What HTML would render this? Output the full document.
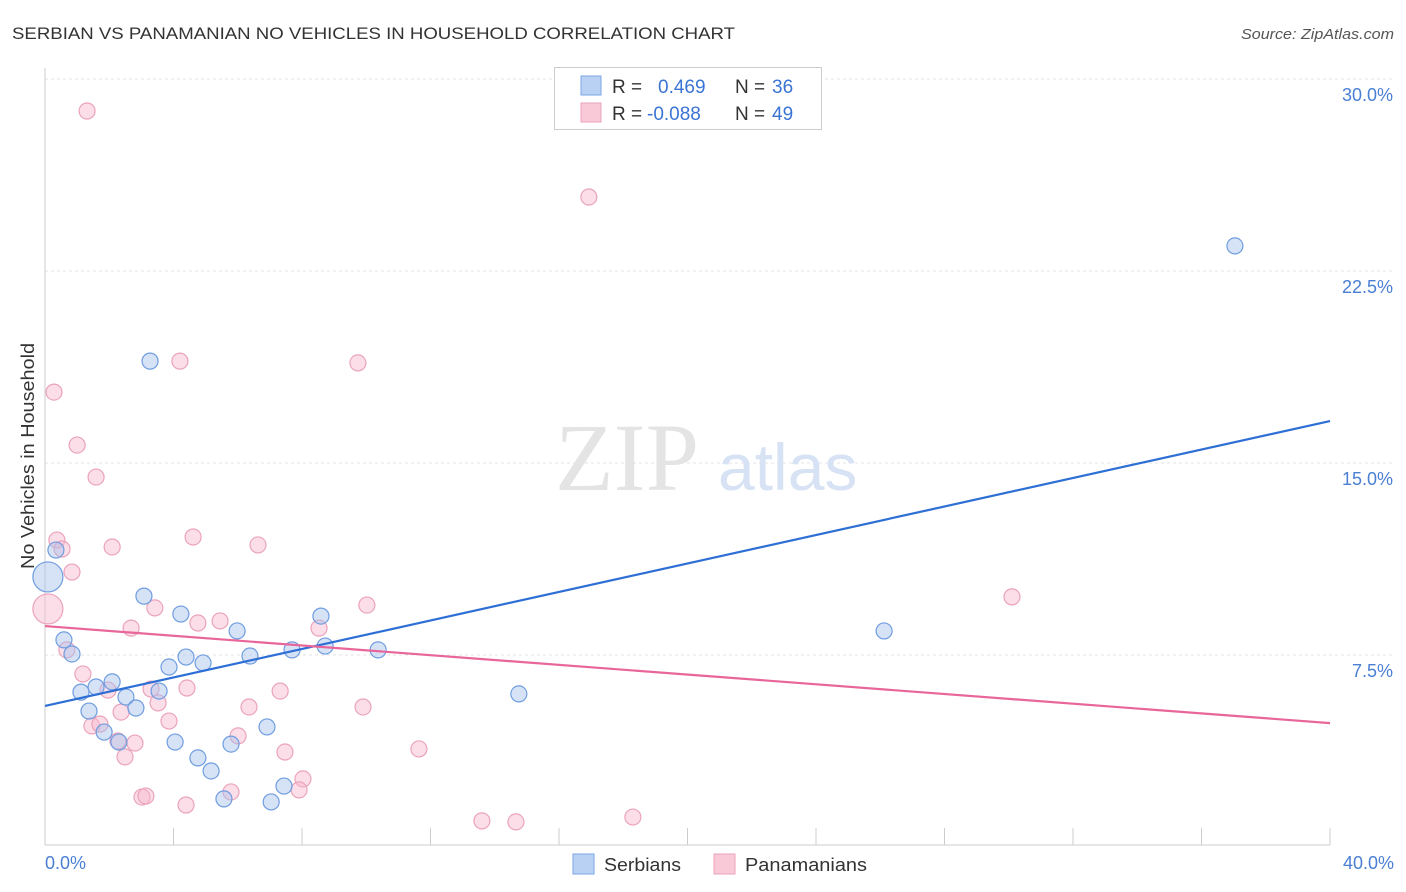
<!DOCTYPE html>
<html><head><meta charset="utf-8"><style>
body{margin:0;background:#fff;font-family:"Liberation Sans",sans-serif;}
svg{display:block}
</style></head><body>
<svg width="1406" height="892" font-family="Liberation Sans, sans-serif">
<text x="12" y="39" font-size="17" fill="#333" textLength="723" lengthAdjust="spacingAndGlyphs">SERBIAN VS PANAMANIAN NO VEHICLES IN HOUSEHOLD CORRELATION CHART</text>
<text x="1394" y="39" font-size="15" fill="#555" font-style="italic" text-anchor="end" textLength="153" lengthAdjust="spacingAndGlyphs">Source: ZipAtlas.com</text>
<g id="grid"></g>
<g id="ticks"></g>
<line x1="45" y1="68" x2="45" y2="845" stroke="#ccc"/>
<line x1="45" y1="845" x2="1330" y2="845" stroke="#ccc"/>
<text x="555" y="490" font-size="96" fill="#e4e4e4" font-family="Liberation Serif, serif">ZIP</text>
<text x="718" y="490" font-size="66" fill="#d7e3f4">atlas</text>
<text transform="translate(34,456) rotate(-90)" font-size="18" fill="#333" text-anchor="middle" textLength="226" lengthAdjust="spacingAndGlyphs">No Vehicles in Household</text>
<text x="45" y="869" font-size="18" fill="#4a7fd4">0.0%</text>
<text x="1394" y="869" font-size="18" fill="#4a7fd4" text-anchor="end">40.0%</text>
<g id="pink"></g><g id="blue"></g><g id="lines"></g>
<g>
<rect x="554.5" y="67.5" width="267" height="62" fill="#fff" stroke="#ccc"/>
<rect x="581" y="76" width="20" height="19" fill="#b9d1f3" stroke="#7aa5e3"/>
<rect x="581" y="103" width="20" height="19" fill="#f9c9d8" stroke="#eba3bb"/>
<text x="612" y="93" font-size="19" fill="#333">R = </text><text x="658" y="93" font-size="19" fill="#3a74d4">0.469</text>
<text x="735" y="93" font-size="19" fill="#333">N = </text><text x="772" y="93" font-size="19" fill="#3a74d4">36</text>
<text x="612" y="120" font-size="19" fill="#333">R = </text><text x="647" y="120" font-size="19" fill="#3a74d4">-0.088</text>
<text x="735" y="120" font-size="19" fill="#333">N = </text><text x="772" y="120" font-size="19" fill="#3a74d4">49</text>
</g>
<g>
<rect x="573" y="854" width="21" height="20" fill="#b9d1f3" stroke="#7aa5e3"/>
<text x="604" y="871" font-size="18" fill="#333" textLength="77" lengthAdjust="spacingAndGlyphs">Serbians</text>
<rect x="714" y="854" width="21" height="20" fill="#f9c9d8" stroke="#eba3bb"/>
<text x="745" y="871" font-size="18" fill="#333" textLength="122" lengthAdjust="spacingAndGlyphs">Panamanians</text>
</g>
</svg>
<script>
const yTicks=[7.5,15,22.5,30];
const yTickLabels=["7.5%","15.0%","22.5%","30.0%"];
const xTicks=[0,4,8,12,16,20,24,28,32,36,40];
const blueX=[0.09,0.34,0.59,0.84,1.12,1.37,1.59,1.84,2.09,2.30,2.52,2.83,3.08,3.27,3.55,3.86,4.05,4.23,4.39,4.76,4.92,5.17,5.57,5.79,5.98,6.38,6.91,7.04,7.44,7.69,8.59,8.72,10.37,14.75,26.12,37.04];
const blueY=[10.55,11.60,8.09,7.54,6.05,5.31,6.25,4.49,6.45,4.10,5.86,5.43,9.80,18.98,6.09,7.03,4.10,9.10,7.42,3.48,7.19,2.97,1.88,4.02,8.44,7.46,4.69,1.76,2.38,7.70,9.02,7.85,7.70,5.98,8.44,23.48];
const pinkX=[1.31,0.28,0.09,1.00,1.59,0.37,0.53,0.84,2.09,4.61,6.63,4.20,9.74,16.93,3.42,2.68,4.76,5.45,10.02,8.53,30.10,0.68,1.18,1.96,3.30,4.42,7.32,3.52,2.37,6.35,9.90,3.86,1.46,1.71,6.01,2.27,2.80,2.49,7.47,11.64,5.79,8.03,7.91,3.02,3.14,4.39,13.60,14.66,18.30];
const pinkY=[28.75,17.77,9.30,15.70,14.45,11.99,11.64,10.74,11.72,12.11,11.80,18.98,18.91,25.39,9.34,8.55,8.75,8.83,9.45,8.55,9.77,7.70,6.76,6.13,6.17,6.21,6.09,5.63,5.27,5.47,5.47,4.92,4.73,4.80,4.34,4.14,4.06,3.52,3.71,3.83,2.15,2.66,2.23,1.95,1.99,1.64,1.02,0.98,1.17];
const blueTrend=[5.51,16.64];
const pinkTrend=[8.63,4.84];
const NS="http://www.w3.org/2000/svg";
const sx=v=>45+v*32.125, sy=v=>847-v*25.6;
function mk(tag,attrs,parent){const e=document.createElementNS(NS,tag);for(const k in attrs)e.setAttribute(k,attrs[k]);parent.appendChild(e);return e;}
const grid=document.getElementById('grid');
yTicks.forEach((t,i)=>{
 const l=mk('line',{x1:45,x2:1394,y1:sy(t),y2:sy(t),stroke:'#e3e3e3','stroke-dasharray':'3,3'},grid);
 
 
 const tx=mk('text',{x:1393,y:sy(t)+22,'font-size':18,fill:'#4a7fd4','text-anchor':'end'},grid);
 tx.textContent=yTickLabels[i];
 
 
});
const tk=document.getElementById('ticks');
xTicks.forEach(t=>{const l=mk('line',{x1:sx(t),x2:sx(t),y1:828,y2:845,stroke:'#ccc'},tk);
 
 });
const pg=document.getElementById('pink');
pinkX.forEach((x,i)=>{const c=mk('circle',{cx:sx(x),cy:sy(pinkY[i]),r:(i==2?15:8),fill:'rgba(246,182,204,0.45)',stroke:'#eba3bb','stroke-width':1.2},pg);
 
 });
const bg=document.getElementById('blue');
blueX.forEach((x,i)=>{const c=mk('circle',{cx:sx(x),cy:sy(blueY[i]),r:(i==0?15:8),fill:'rgba(164,194,238,0.45)',stroke:'#6f9de0','stroke-width':1.2},bg);
 
 });
const lg=document.getElementById('lines');
const bl=mk('line',{x1:sx(0),y1:sy(blueTrend[0]),x2:sx(40),y2:sy(blueTrend[1]),stroke:'#2e6fd6','stroke-width':2.2},lg);


const pl=mk('line',{x1:sx(0),y1:sy(pinkTrend[0]),x2:sx(40),y2:sy(pinkTrend[1]),stroke:'#e8669a','stroke-width':2.2},lg);


</script>
</body></html>
